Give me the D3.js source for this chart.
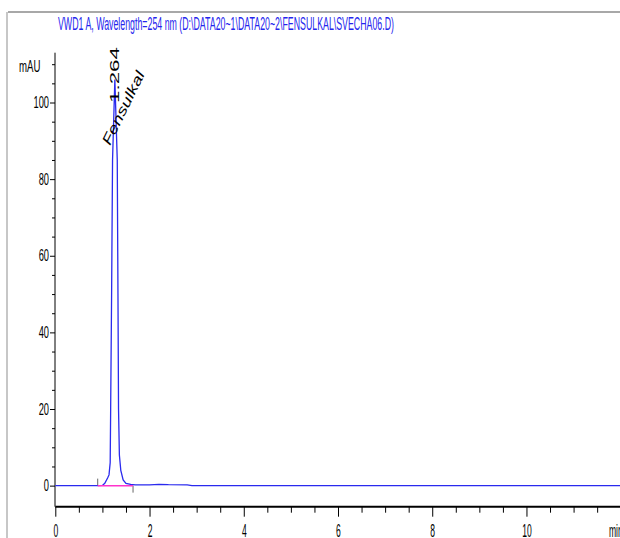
<!DOCTYPE html>
<html>
<head>
<meta charset="utf-8">
<script src="https://cdn.jsdelivr.net/npm/d3@7.9.0/dist/d3.min.js"></script>
<style>
  body { margin: 0; background: #fff; }
  svg { display: block; }
  text { font-family: "Liberation Sans", Arial, sans-serif; }
</style>
</head>
<body>
<svg id="chart" width="620" height="538"></svg>
<script>
// chromatogram trace (time in min, signal in mAU)
const times = [0, 0.9, 1.0, 1.05, 1.11, 1.14, 1.165, 1.175, 1.195, 1.215, 1.264, 1.315, 1.33, 1.342, 1.36, 1.39, 1.44, 1.5, 1.6, 1.7, 2.0, 2.2, 2.4, 2.8, 2.9, 12];
const signal = [0, 0, 0.05, 0.6, 2.0, 2.8, 6, 20, 50, 85, 106, 85, 50, 20, 8, 4, 1.5, 0.6, 0.3, 0.2, 0.2, 0.35, 0.25, 0.2, 0, 0];

// integrated peak
const peakTime = 1.264;
const peakLabel = "1.264";
const compound = "Fensulkal";
const baselineStart = 0.9;
const baselineEnd = 1.65;

const xMajor = [0, 2, 4, 6, 8, 10];
const yMajor = [0, 20, 40, 60, 80, 100];

const title = "VWD1 A, Wavelength=254 nm (D:\\DATA20~1\\DATA20~2\\FENSULKAL\\SVECHA06.D)";

const svg = d3.select("#chart");

const x = d3.scaleLinear().domain([0, 12]).range([55.3, 620.7]);
const y = d3.scaleLinear().domain([-5.5, 113]).range([506.7, 52.7]);

// squeeze text horizontally, like the narrow ChemStation font
function condense(sel, k) {
  sel.each(function () {
    const len = this.getComputedTextLength();
    d3.select(this).attr("textLength", len * k).attr("lengthAdjust", "spacingAndGlyphs");
  });
}

// frame
svg.append("line").attr("x1", 8).attr("x2", 620).attr("y1", 12).attr("y2", 12)
  .attr("stroke", "#a8a8a8").attr("stroke-width", 2);
svg.append("line").attr("x1", 7).attr("x2", 7).attr("y1", 12).attr("y2", 538)
  .attr("stroke", "#b4b4b4").attr("stroke-width", 1.5);

svg.append("text").attr("x", 58).attr("y", 30)
  .attr("fill", "#2424ee").attr("font-size", 17.5)
  .text(title)
  .call(s => s.attr("textLength", 336).attr("lengthAdjust", "spacingAndGlyphs"));

// y axis
const yMinor = d3.range(0, 111, 5).filter(v => v % 20 !== 0);
svg.append("g").attr("transform", "translate(55,0)")
  .call(d3.axisLeft(y).tickValues(yMinor).tickSize(3).tickFormat(""))
  .call(g => g.select(".domain").remove());
const yAxis = svg.append("g").attr("transform", "translate(55,0)")
  .call(d3.axisLeft(y).tickValues(yMajor).tickSize(5).tickPadding(1).tickFormat(d3.format("d")));
yAxis.select(".domain").attr("d", `M0,${y(113)}V${y(-5.5)}`);
yAxis.selectAll("text").attr("font-size", 16).attr("font-family", null).call(condense, 0.58);

svg.append("text").attr("x", 19).attr("y", 72).attr("font-size", 16).text("mAU").call(condense, 0.6);

// x axis
const xMinor = d3.range(0.5, 12, 0.5).filter(v => v % 2 !== 0);
svg.append("g").attr("transform", `translate(0,${y(-5.5)})`)
  .call(d3.axisBottom(x).tickValues(xMinor).tickSize(6).tickFormat(""))
  .call(g => g.select(".domain").remove());
const xAxis = svg.append("g").attr("transform", `translate(0,${y(-5.5)})`)
  .call(d3.axisBottom(x).tickValues(xMajor).tickSize(10).tickPadding(6).tickFormat(d3.format("d")));
xAxis.select(".domain").attr("d", `M${x(0)},0H620`).attr("stroke-width", 2);
xAxis.selectAll("text").attr("font-size", 19).attr("font-family", null)
  .attr("dy", null).attr("y", 30).call(condense, 0.45);

svg.append("text").attr("x", 609).attr("y", 537).attr("font-size", 19).text("min").call(condense, 0.45);

// baseline markers
svg.append("line").attr("x1", x(baselineStart)).attr("x2", x(baselineStart))
  .attr("y1", y(0)).attr("y2", y(0) - 7).attr("stroke", "#666");
svg.append("line").attr("x1", x(baselineEnd)).attr("x2", x(baselineEnd))
  .attr("y1", y(0)).attr("y2", y(0) + 7).attr("stroke", "#666");

// trace
const pts = times.map((t, i) => [t, signal[i]]);
svg.append("path").datum(pts)
  .attr("fill", "none").attr("stroke", "#2a2aee").attr("stroke-width", 1.3)
  .attr("d", d3.line().x(d => x(d[0])).y(d => y(d[1])));

svg.append("line").attr("x1", x(baselineStart)).attr("x2", x(baselineEnd))
  .attr("y1", y(0)).attr("y2", y(0)).attr("stroke", "#ff33cc").attr("stroke-width", 1.5);

// peak annotations
svg.append("text")
  .attr("transform", `translate(${x(peakTime) + 4},103) rotate(-90)`)
  .attr("font-size", 12).attr("textLength", 56).attr("lengthAdjust", "spacingAndGlyphs")
  .text(peakLabel);
svg.append("text")
  .attr("transform", `translate(110,146) rotate(-64)`)
  .attr("font-size", 14).attr("font-style", "italic")
  .attr("textLength", 80).attr("lengthAdjust", "spacingAndGlyphs")
  .text(compound);
</script>
</body>
</html>
